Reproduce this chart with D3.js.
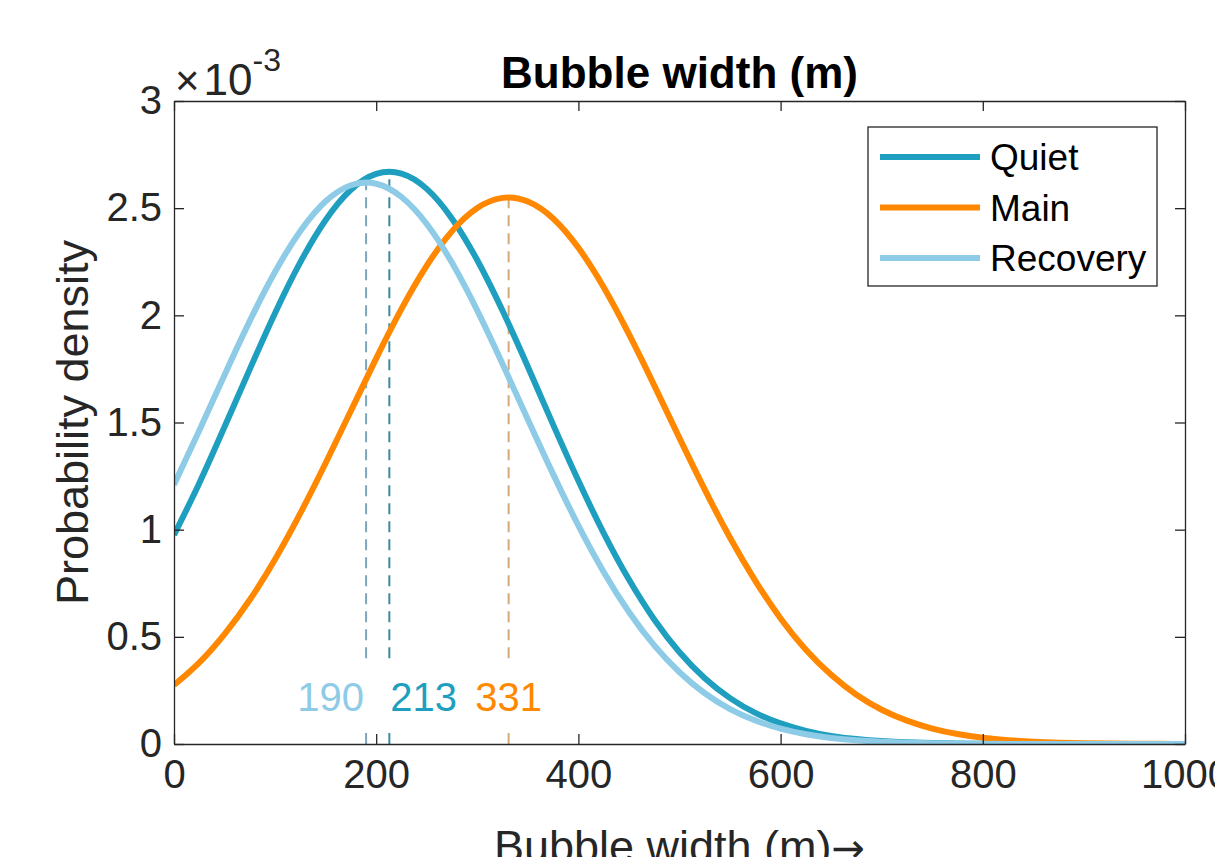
<!DOCTYPE html>
<html>
<head>
<meta charset="utf-8">
<script src="https://cdn.jsdelivr.net/npm/d3@7.9.0/dist/d3.min.js"></script>
<style>
  html, body { margin: 0; padding: 0; background: #fff; }
  svg { display: block; font-family: "Liberation Sans", Arial, sans-serif; }
</style>
</head>
<body>
<svg id="chart" width="1215" height="857"></svg>
<script>
// bubble width (m), sampled every 25 m
const widths = [0, 25, 50, 75, 100, 125, 150, 175, 200, 225, 250, 275, 300, 325, 350, 375,
  400, 425, 450, 475, 500, 525, 550, 575, 600, 625, 650, 675, 700, 725, 750, 775,
  800, 825, 850, 875, 900, 925, 950, 975, 1000];

// probability density, in units of 1e-3
const quiet = [0.975, 1.217, 1.48, 1.749, 2.011, 2.248, 2.445, 2.586, 2.66, 2.661, 2.59,
  2.451, 2.257, 2.021, 1.76, 1.49, 1.228, 0.984, 0.767, 0.581, 0.428, 0.307, 0.214,
  0.145, 0.096, 0.0615, 0.038, 0.0233, 0.0137, 0.0079, 0.0044, 0.0024, 0.0012, 0.0006,
  0.0003, 0.0002, 0.0001, 0, 0, 0, 0];
const main = [0.275, 0.38, 0.513, 0.673, 0.862, 1.077, 1.311, 1.555, 1.799, 2.03, 2.232,
  2.393, 2.501, 2.548, 2.531, 2.452, 2.315, 2.131, 1.912, 1.673, 1.427, 1.187, 0.962,
  0.761, 0.586, 0.44, 0.323, 0.23, 0.16, 0.109, 0.072, 0.0465, 0.029, 0.0179, 0.0107,
  0.0062, 0.0035, 0.002, 0.0011, 0.0006, 0.0003];
const recovery = [1.21, 1.463, 1.722, 1.974, 2.203, 2.393, 2.532, 2.607, 2.614, 2.552, 2.426,
  2.245, 2.022, 1.773, 1.514, 1.259, 1.019, 0.803, 0.616, 0.46, 0.335, 0.237, 0.163,
  0.11, 0.0716, 0.0456, 0.0282, 0.017, 0.01, 0.0057, 0.0032, 0.0017, 0.0009, 0.0005,
  0.0002, 0.0001, 0.0001, 0, 0, 0, 0];

const seriesNames = ['Quiet', 'Main', 'Recovery'];
const seriesColors = ['#1f9fbf', '#ff8800', '#8ecbe6'];

// peak of each curve
const peakX = [213, 331, 190];
const peakY = [2.67, 2.55, 2.62];
const peakLineColors = ['#3d8a9f', '#d6a979', '#7ca6bb'];

const xTicks = [0, 200, 400, 600, 800, 1000];
const yTicks = [0, 0.5, 1, 1.5, 2, 2.5, 3];

const margin = { left: 174, right: 30, top: 101, bottom: 113 };
const W = 1215, H = 857;
const ink = '#262626';

const svg = d3.select('#chart');
const x = d3.scaleLinear().domain([0, 1000]).range([margin.left, W - margin.right]);
const y = d3.scaleLinear().domain([0, 3]).range([H - margin.bottom, margin.top]);

const series = [quiet, main, recovery].map((vals, i) => ({
  name: seriesNames[i],
  color: seriesColors[i],
  points: widths.map((w, j) => [w, vals[j]])
}));

// clip so curves stay inside the box
svg.append('clipPath').attr('id', 'plot-clip')
  .append('rect')
  .attr('x', x(0)).attr('y', y(3))
  .attr('width', x(1000) - x(0)).attr('height', y(0) - y(3));

// dashed peak lines, broken where the labels sit
const gapLo = 0.055, gapHi = 0.40;
const peaks = svg.append('g');
peakX.forEach((px, i) => {
  [[0, gapLo], [gapHi, peakY[i]]].forEach(([a, b]) => {
    peaks.append('line')
      .attr('x1', x(px)).attr('x2', x(px))
      .attr('y1', y(a)).attr('y2', y(b))
      .attr('stroke', peakLineColors[i])
      .attr('stroke-width', 2)
      .attr('stroke-dasharray', '11,7');
  });
});

// curves
const line = d3.line()
  .x(d => x(d[0]))
  .y(d => y(d[1]))
  .curve(d3.curveNatural);

svg.append('g').attr('clip-path', 'url(#plot-clip)')
  .selectAll('path')
  .data(series)
  .join('path')
  .attr('d', d => line(d.points))
  .attr('fill', 'none')
  .attr('stroke', d => d.color)
  .attr('stroke-width', 6);

// peak labels
const labelAnchor = ['start', 'middle', 'end'];
const labelDx = [1, 0, -2];
svg.append('g')
  .selectAll('text')
  .data(peakX)
  .join('text')
  .attr('x', (d, i) => x(d) + labelDx[i])
  .attr('y', y(0.154))
  .attr('text-anchor', (d, i) => labelAnchor[i])
  .attr('font-size', 40)
  .attr('fill', (d, i) => seriesColors[i])
  .text(d => d);

// axes (box with inward ticks on all four sides)
const tickLen = 10;
const xAxis = d3.axisBottom(x).tickValues(xTicks).tickSizeInner(-tickLen).tickSizeOuter(0).tickPadding(16).tickFormat(d3.format('d'));
const xTop = d3.axisTop(x).tickValues(xTicks).tickSizeInner(-tickLen).tickSizeOuter(0).tickFormat('');
const yAxis = d3.axisLeft(y).tickValues(yTicks).tickSizeInner(-tickLen).tickSizeOuter(0).tickPadding(12).tickFormat(d3.format('~g'));
const yRight = d3.axisRight(y).tickValues(yTicks).tickSizeInner(-tickLen).tickSizeOuter(0).tickFormat('');

function styleAxis(g) {
  g.select('.domain').attr('stroke', ink).attr('stroke-width', 1.3);
  g.selectAll('.tick line').attr('stroke', ink).attr('stroke-width', 1.3);
  g.selectAll('.tick text').attr('fill', ink).attr('font-size', 40)
    .attr('font-family', '"Liberation Sans", Arial, sans-serif');
}

svg.append('g').attr('transform', `translate(0,${y(0)})`).call(xAxis).call(styleAxis);
svg.append('g').attr('transform', `translate(0,${y(3)})`).call(xTop).call(styleAxis);
svg.append('g').attr('transform', `translate(${x(0)},0)`).call(yAxis).call(styleAxis);
svg.append('g').attr('transform', `translate(${x(1000)},0)`).call(yRight).call(styleAxis);

// exponent
const expo = svg.append('text')
  .attr('x', x(0) + 1).attr('y', y(3) - 6)
  .attr('fill', ink).attr('font-size', 44);
expo.append('tspan').attr('font-size', 42).text('×');
expo.append('tspan').attr('dx', 4).text('10');
expo.append('tspan').attr('dy', -24).attr('font-size', 32).text('-3');

// title
svg.append('text')
  .attr('x', (x(0) + x(1000)) / 2).attr('y', 88)
  .attr('text-anchor', 'middle')
  .attr('font-weight', 'bold').attr('font-size', 44).attr('fill', '#000')
  .text('Bubble width (m)');

// axis labels
svg.append('text')
  .attr('transform', `translate(88,${(y(0) + y(3)) / 2}) rotate(-90)`)
  .attr('text-anchor', 'middle')
  .attr('font-size', 45).attr('fill', ink)
  .text('Probability density');

const xl = svg.append('text')
  .attr('x', (x(0) + x(1000)) / 2).attr('y', 862)
  .attr('text-anchor', 'middle')
  .attr('font-size', 45).attr('fill', ink);
xl.append('tspan').text('Bubble width (m)');
xl.append('tspan').attr('font-family', '"DejaVu Sans", sans-serif').attr('font-size', 40).text('→');

// legend
const legend = svg.append('g').attr('transform', 'translate(868,127)');
legend.append('rect')
  .attr('width', 289).attr('height', 159)
  .attr('fill', '#fff').attr('stroke', ink).attr('stroke-width', 1.3);
const rowH = 50.5;
series.forEach((s, i) => {
  const cy = 30 + i * rowH;
  legend.append('line')
    .attr('x1', 12).attr('x2', 112).attr('y1', cy).attr('y2', cy)
    .attr('stroke', s.color).attr('stroke-width', 6);
  legend.append('text')
    .attr('x', 122).attr('y', cy + 13)
    .attr('font-size', 37).attr('fill', '#000')
    .text(s.name);
});
</script>
</body>
</html>
